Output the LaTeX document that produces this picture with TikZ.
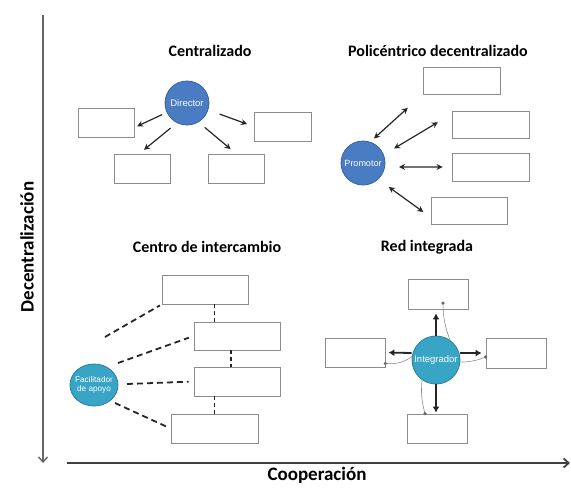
\documentclass[tikz,border=0pt]{standalone}
\usepackage{fontspec}
\setmainfont{Carlito}
\newfontfamily\arialfont{Liberation Sans}
\usetikzlibrary{arrows,arrows.meta,positioning,shapes.geometric,calc}
\definecolor{dirblue}{HTML}{4A7CC4}
\definecolor{dirline}{HTML}{35619F}
\definecolor{tealfill}{HTML}{38A4C6}
\definecolor{tealline}{HTML}{2A7E9C}
\definecolor{boxline}{HTML}{8C8C8C}
\tikzset{
  blank/.style={draw=boxline, line width=0.8pt, fill=white, inner sep=0pt},
  actor/.style={circle, draw, line width=0.8pt, inner sep=0pt, text=white, align=center,
    font=\arialfont\fontsize{9.5}{11}\selectfont},
  titulo/.style={font=\bfseries\fontsize{16}{18}\selectfont},
  eje/.style={font=\bfseries\fontsize{19}{21}\selectfont},
  flecha/.style={-{Stealth[length=6pt,width=6pt]}, line width=1.2pt, black!85},
  doble/.style={{Stealth[length=6pt,width=6pt]}-{Stealth[length=6pt,width=6pt]}, line width=1.2pt, black!85},
  grueso/.style={-{Latex[length=6pt,width=7pt]}, line width=1.8pt, black!85},
  dsh/.style={line width=1.8pt, dash pattern=on 6pt off 4pt, black!85},
  hilo/.style={black!45, line width=0.6pt},
  punto/.style={circle, fill=black!60, inner sep=0pt, minimum size=3.5pt}
}

\begin{document}
\begin{tikzpicture}[x=1pt, y=-1pt]
    \useasboundingbox (0,0) rectangle (571,491);

    \coordinate (ytop) at (43,15);
    \coordinate (ybot) at (43,463);
    \coordinate (xizq) at (67,463);
    \coordinate (xder) at (570,463);
    \draw[-{Straight Barb[length=5pt,width=9pt]}, black!60, line width=1.4pt] (ytop) -- (ybot);
    \draw[-{Straight Barb[length=5pt,width=9pt]}, black!75, line width=1.8pt] (xizq) -- (xder);
    \node[eje, rotate=90] (lv) at (27,247) {Decentralización};
    \node[eje] (lh) at (317,475) {Cooperación};

    \node[titulo] (t1) at (210,51) {Centralizado};
    \node[actor, fill=dirblue, draw=dirline, minimum size=44pt] (dir) at (187,103) {Director};
    \node[blank, minimum width=56pt, minimum height=29pt] (c1) at (106,122.5) {};
    \node[blank, minimum width=57pt, minimum height=29pt] (c2) at (282.5,126.5) {};
    \node[blank, minimum width=56pt, minimum height=29pt] (c3) at (142,168.5) {};
    \node[blank, minimum width=56pt, minimum height=29pt] (c4) at (236,168.5) {};
    \draw[flecha, shorten <=5pt, shorten >=3pt] (dir.205) -- (c1.-10);
    \draw[flecha, shorten <=12pt, shorten >=7pt] (dir.-18) -- (c2.west);
    \draw[flecha, shorten <=8pt, shorten >=6pt] (dir.243) -- (c3.100);
    \draw[flecha, shorten <=8pt, shorten >=7pt] (dir.-59) -- (c4.north);

    \node[titulo] (t2) at (438,51) {Policéntrico decentralizado};
    \node[actor, fill=dirblue, draw=dirline, minimum size=44pt,
      font=\arialfont\fontsize{9}{10}\selectfont] (pro) at (363,163) {Promotor};
    \node[blank, minimum width=77pt, minimum height=27pt] (p1) at (461.5,80.5) {};
    \node[blank, minimum width=77pt, minimum height=27pt] (p2) at (490.5,124.5) {};
    \node[blank, minimum width=77pt, minimum height=28pt] (p3) at (490.5,167) {};
    \node[blank, minimum width=76pt, minimum height=27pt] (p4) at (469,210.5) {};
    \draw[doble, shorten <=5pt, shorten >=20pt] (pro.71) -- (p1.south west);
    \draw[doble, shorten <=12pt, shorten >=16pt] (pro.22) -- (p2.165);
    \draw[doble, shorten <=14pt, shorten >=9pt] (pro.-10) -- (p3.west);
    \draw[doble, shorten <=13pt, shorten >=9pt] (pro.-47) -- (p4.190);

    \node[titulo] (t3) at (207,247) {Centro de intercambio};
    \node[ellipse, draw=tealline, fill=tealfill, line width=0.8pt, inner sep=0pt,
      minimum width=48pt, minimum height=42pt,
      label={[text=white, align=center, font=\arialfont\fontsize{8.2}{9.5}\selectfont]center:Facilitador\\de apoyo}] (fa) at (94,385) {};
    \node[blank, minimum width=86pt, minimum height=29pt] (i1) at (205,289.5) {};
    \node[blank, minimum width=86pt, minimum height=28pt] (i2) at (237,336) {};
    \node[blank, minimum width=86pt, minimum height=29pt] (i3) at (237,381.5) {};
    \node[blank, minimum width=87pt, minimum height=29pt] (i4) at (214.5,428.5) {};
    \draw[dsh, shorten >=2pt] ([shift={(11pt,48pt)}]fa.center) -- (i1.south west);
    \draw[dsh, shorten >=5pt] ([shift={(24pt,22pt)}]fa.center) -- (i2.west);
    \draw[dsh, shorten >=5pt] ([shift={(33pt,1pt)}]fa.center) -- (i3.west);
    \draw[dsh, shorten >=4pt] ([shift={(21pt,-18pt)}]fa.center) -- (i4.west);
    \draw[dsh, dash pattern=on 4pt off 3pt] (i1.south -| i4.north) -- (i2.north -| i4.north);
    \draw[dsh, dash pattern=on 4pt off 3pt] ([xshift=-6pt]i2.south) -- ([xshift=-6pt]i3.north);
    \draw[dsh, dash pattern=on 4pt off 3pt] (i3.south -| i4.north) -- (i4.north);

    \node[titulo] (t4) at (427,247) {Red integrada};
    \node[actor, fill=tealfill, draw=tealline, minimum size=48pt] (in) at (436,360) {Integrador};
    \node[blank, minimum width=60pt, minimum height=30pt] (r1) at (438,294) {};
    \node[blank, minimum width=60pt, minimum height=29pt] (r2) at (355,352.5) {};
    \node[blank, minimum width=60pt, minimum height=30pt] (r3) at (516,353) {};
    \node[blank, minimum width=60pt, minimum height=29pt] (r4) at (437,428.5) {};
    \draw[hilo] (in.55) to[bend left=10] ([shift={(5pt,-9pt)}]r1.center) node[punto] (d1) {};
    \draw[hilo] (in.172) to[bend left=20] ([yshift=4pt]r2.south east) node[punto] (d2) {};
    \draw[hilo] (in.-5) to[bend right=10] ([yshift=-4pt]r3.west) node[punto] (d3) {};
    \draw[hilo] (in.235) to[bend right=10] ([xshift=-12pt]r4.north) node[punto] (d4) {};
    \draw[grueso, shorten >=4pt] (in.north) -- (in.north |- r1.south);
    \draw[grueso, shorten >=3pt] ([yshift=7pt]in.west) -- (r2.east);
    \draw[grueso, shorten >=4pt] ([yshift=7pt]in.east) -- (r3.west);
    \draw[grueso, shorten >=1pt] (in.south) -- (in.south |- r4.north);
\end{tikzpicture}
\end{document}
